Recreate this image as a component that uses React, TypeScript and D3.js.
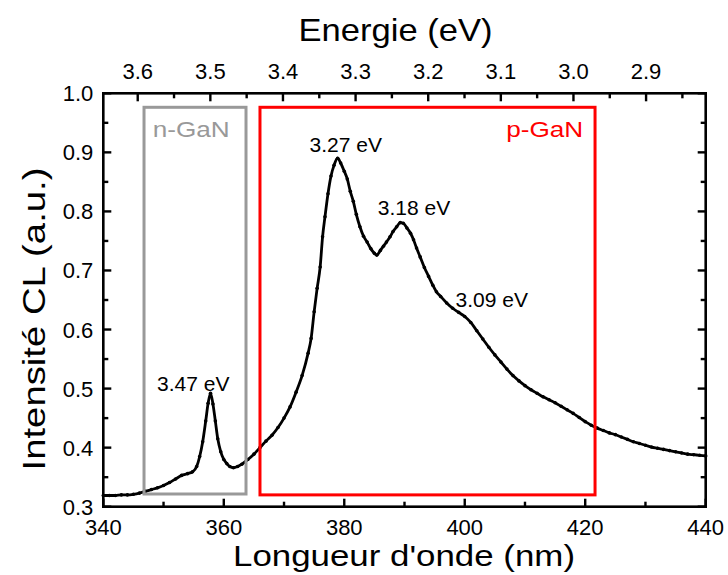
import React from "react";
import * as d3 from "d3";

// ---- data ----
const wavelength = [
  340, 341, 342, 343, 344, 345, 346, 347, 348, 349, 350, 351, 352, 353, 354, 354.8,
  355.5, 356, 356.5, 357, 357.4, 357.8, 358.2, 358.6, 359, 359.5, 360, 360.5, 361, 361.6,
  362.3, 363, 364, 365, 366, 367, 368, 369, 370, 371, 372, 373, 374, 374.5, 375, 375.5,
  376, 376.4, 376.8, 377.3, 377.8, 378.3, 378.9, 379.4, 380, 380.5, 381, 381.5, 382, 382.6,
  383.2, 383.8, 384.4, 385, 385.4, 386, 386.5, 387, 387.6, 388.1, 388.7, 389.3, 389.8, 390.4,
  391, 391.5, 392, 392.6, 393.3, 394, 394.7, 395.3, 396, 397, 398, 399, 400, 401, 402, 403,
  404, 405, 406, 407, 408, 409, 410, 411, 412, 413, 414, 415, 416, 417, 418, 419, 420, 421,
  422, 423, 424, 425, 426, 427, 428, 429, 430, 431, 432, 433, 434, 435, 436, 437, 438, 439, 440,
];
const intensity = [
  0.319, 0.319, 0.319, 0.32, 0.32, 0.321, 0.323, 0.326, 0.329, 0.332, 0.336, 0.341, 0.347, 0.353, 0.356, 0.359,
  0.368, 0.385, 0.41, 0.445, 0.475, 0.492, 0.474, 0.445, 0.415, 0.393, 0.38, 0.373, 0.368, 0.366,
  0.368, 0.372, 0.38, 0.389, 0.4, 0.411, 0.421, 0.434, 0.45, 0.469, 0.494, 0.522, 0.56, 0.585, 0.63, 0.67,
  0.706, 0.757, 0.791, 0.83, 0.86, 0.878, 0.89, 0.882, 0.868, 0.855, 0.834, 0.817, 0.795, 0.774,
  0.758, 0.748, 0.737, 0.729, 0.726, 0.734, 0.741, 0.748, 0.757, 0.766, 0.774, 0.781, 0.78, 0.772,
  0.763, 0.752, 0.738, 0.723, 0.705, 0.69, 0.675, 0.664, 0.656, 0.645, 0.636, 0.629, 0.622, 0.612, 0.598, 0.584,
  0.57, 0.557, 0.545, 0.533, 0.522, 0.513, 0.505, 0.498, 0.492, 0.486, 0.481, 0.476, 0.47, 0.464, 0.458, 0.451, 0.444, 0.438,
  0.433, 0.429, 0.425, 0.422, 0.418, 0.414, 0.41, 0.407, 0.404, 0.401, 0.399, 0.397, 0.395, 0.393, 0.391, 0.389, 0.388, 0.387, 0.386,
];

const xTickLabels = [340, 360, 380, 400, 420, 440];
const xMinorTicks = [350, 370, 390, 410, 430];
const yTickLabels = [0.3, 0.4, 0.5, 0.6, 0.7, 0.8, 0.9, 1.0];
const yMinorTicks = [0.35, 0.45, 0.55, 0.65, 0.75, 0.85, 0.95];
const eTickLabels = [3.6, 3.5, 3.4, 3.3, 3.2, 3.1, 3.0, 2.9];
const eMinorTicks = [3.55, 3.45, 3.35, 3.25, 3.15, 3.05, 2.95, 2.85];

const peakLabels = ["3.47 eV", "3.27 eV", "3.18 eV", "3.09 eV"];
const peakLabelNm = [354.94, 380.26, 391.58, 404.48];
const peakLabelVal = [0.496, 0.901, 0.794, 0.6386];

const boxNames = ["n-GaN", "p-GaN"];
const boxNmStart = [346.76, 366.01];
const boxNmEnd = [363.69, 421.63];
const boxValBottom = [0.3215, 0.32];
const boxValTop = [0.9763, 0.9763];
const boxLabelNm = [354.59, 413.27];
const boxLabelVal = [0.9255, 0.9255];

const W = 728;
const H = 575;
const FONT = "'Liberation Sans', Arial, sans-serif";

export default function App() {
  const x = d3.scaleLinear().domain([340, 440]).range([103.3, 705.7]);
  const y = d3.scaleLinear().domain([0.3, 1.0]).range([506.7, 93.3]);
  const e = d3.scaleLinear().domain([3.6474, 2.8179]).range([103.3, 705.7]);

  const pts = wavelength.map((w, i) => [w, intensity[i]] as [number, number]);
  const line = d3
    .line<[number, number]>()
    .x((d) => x(d[0]))
    .y((d) => y(d[1]))
    .curve(d3.curveMonotoneX);

  const [x0, x1] = x.range();
  const [y0, y1] = y.range();
  const majorLen = 8;
  const minorLen = 5;
  const boxColors = ["#999999", "#ff0000"];

  return (
    <div style={{ position: "absolute", left: 0, top: 0 }}>
      <svg width={W} height={H} style={{ display: "block", background: "#fff" }} fontFamily={FONT}>
        {/* curve */}
        <path d={line(pts) || ""} fill="none" stroke="#000" strokeWidth={2.8} strokeLinejoin="round" />
        {pts.map((d, i) => (
          <circle key={i} cx={x(d[0])} cy={y(d[1])} r={1.8} fill="#000" />
        ))}

        {/* boxes */}
        {boxNames.map((n, i) => (
          <g key={n}>
            <rect
              x={x(boxNmStart[i])}
              y={y(boxValTop[i])}
              width={x(boxNmEnd[i]) - x(boxNmStart[i])}
              height={y(boxValBottom[i]) - y(boxValTop[i])}
              fill="none"
              stroke={boxColors[i]}
              strokeWidth={3}
            />
            <text
              x={x(boxLabelNm[i])}
              y={y(boxLabelVal[i])}
              textAnchor="middle"
              fontSize={22}
              fill={boxColors[i]}
              textLength={77}
              lengthAdjust="spacingAndGlyphs"
            >
              {n}
            </text>
          </g>
        ))}

        {/* peak labels */}
        {peakLabels.map((t, i) => (
          <text key={t} x={x(peakLabelNm[i])} y={y(peakLabelVal[i])} textAnchor="middle" fontSize={21} fill="#000">
            {t}
          </text>
        ))}

        {/* frame */}
        <rect x={x0} y={y1} width={x1 - x0} height={y0 - y1} fill="none" stroke="#000" strokeWidth={2.6} />

        {/* bottom axis */}
        {xTickLabels.map((v) => (
          <g key={"xb" + v}>
            <line x1={x(v)} x2={x(v)} y1={y0} y2={y0 - majorLen} stroke="#000" strokeWidth={2.4} />
            <text x={x(v)} y={535} textAnchor="middle" fontSize={22}>
              {v}
            </text>
          </g>
        ))}
        {xMinorTicks.map((v) => (
          <line key={"xm" + v} x1={x(v)} x2={x(v)} y1={y0} y2={y0 - minorLen} stroke="#000" strokeWidth={2.4} />
        ))}

        {/* top axis (energy) */}
        {eTickLabels.map((v) => (
          <g key={"et" + v}>
            <line x1={e(v)} x2={e(v)} y1={y1} y2={y1 + majorLen} stroke="#000" strokeWidth={2.4} />
            <text x={e(v)} y={79} textAnchor="middle" fontSize={22}>
              {v.toFixed(1)}
            </text>
          </g>
        ))}
        {eMinorTicks.map((v) => (
          <line key={"em" + v} x1={e(v)} x2={e(v)} y1={y1} y2={y1 + minorLen} stroke="#000" strokeWidth={2.4} />
        ))}

        {/* left and right axes */}
        {yTickLabels.map((v) => (
          <g key={"yl" + v}>
            <line x1={x0} x2={x0 + majorLen} y1={y(v)} y2={y(v)} stroke="#000" strokeWidth={2.4} />
            <line x1={x1} x2={x1 - majorLen} y1={y(v)} y2={y(v)} stroke="#000" strokeWidth={2.4} />
            <text x={x0 - 10} y={y(v) + 8} textAnchor="end" fontSize={22}>
              {v.toFixed(1)}
            </text>
          </g>
        ))}
        {yMinorTicks.map((v) => (
          <g key={"ym" + v}>
            <line x1={x0} x2={x0 + minorLen} y1={y(v)} y2={y(v)} stroke="#000" strokeWidth={2.4} />
            <line x1={x1} x2={x1 - minorLen} y1={y(v)} y2={y(v)} stroke="#000" strokeWidth={2.4} />
          </g>
        ))}

        {/* titles */}
        <text x={395.5} y={41} textAnchor="middle" fontSize={32} textLength={194} lengthAdjust="spacingAndGlyphs">
          Energie (eV)
        </text>
        <text x={404} y={566} textAnchor="middle" fontSize={30} textLength={342} lengthAdjust="spacingAndGlyphs">
          Longueur d'onde (nm)
        </text>
        <text
          transform="translate(45,319) rotate(-90)"
          textAnchor="middle"
          fontSize={31}
          textLength={303}
          lengthAdjust="spacingAndGlyphs"
        >
          Intensité CL (a.u.)
        </text>
      </svg>
    </div>
  );
}
